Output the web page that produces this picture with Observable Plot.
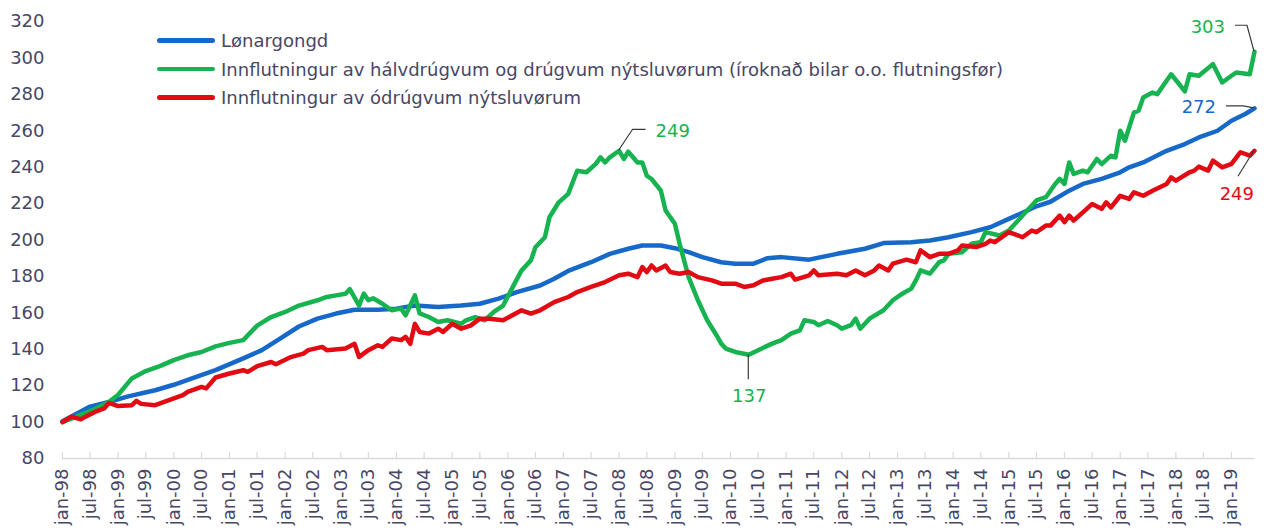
<!DOCTYPE html>
<html>
<head>
<meta charset="utf-8">
<script src="https://cdn.jsdelivr.net/npm/d3@7"></script>
<script src="https://cdn.jsdelivr.net/npm/@observablehq/plot@0.6"></script>
<style>
  body { margin: 0; background: #fff; font-family: "DejaVu Sans", Verdana, sans-serif; }
  #wrap { position: relative; width: 1264px; height: 531px; }
  #legend { position: absolute; left: 157px; top: 26px; }
  .item { display: flex; align-items: center; height: 28.7px; font-size: 18px; color: #474766; white-space: nowrap; }
  .swatch { width: 58px; height: 4.5px; border-radius: 3px; margin-right: 6px; }
</style>
</head>
<body>
<div id="wrap"><div id="legend"></div></div>
<script>
// Months counted from Jan 1998 (0 = jan-98)
const seriesNames = [
  "Lønargongd",
  "Innflutningur av hálvdrúgvum og drúgvum nýtsluvørum (íroknað bilar o.o. flutningsfør)",
  "Innflutningur av ódrúgvum nýtsluvørum"
];
const seriesColors = ["#1668c9", "#17b350", "#e30b13"];

const wageMonths = [0,6,10,14,20,24,29,33,39,43,47,51,55,59,63,68,72,76,81,86,90,94,98,103,106,109,114,118,122,125,129,132,135,138,142,145,149,152,155,161,167,173,177,183,187,191,196,200,204,207,210,213,217,220,224,228,230,233,238,242,245,249,252,255,257];
const wageValues = [100.5,108.5,111,114,117.5,120.5,125,128.5,135,139.5,146,152.5,156.8,159.6,161.7,161.7,162.3,164,163.2,164,165,167.8,171.4,175,178.7,183,187.8,192.4,195.2,197,197,195.5,193.3,190.6,187.8,187,187,190,190.6,189.2,192.4,195.2,198.3,198.8,199.7,201.5,204.3,207,211.6,215,218.5,221,227.1,230.8,233.6,237.2,239.9,242.6,249,252.7,256.3,260,265.5,269.2,272.3];

const durableMonths = [0,3,6,10,12,15,18,21,24,27,30,33,36,39,42,45,48,51,55,57,59,61,62,64,65,66,67,69,71,73,74,76,77,79,81,83,86,87,89,91,93,95,97,99,101,102,104,105,107,109,111,113,115,116,117,118,120,121,122,124,125,126,127,129,130,132,133,135,137,139,141,142,143,145,148,150,153,155,157,159,160,162,163,165,167,168,170,171,172,174,177,179,181,183,184,185,187,189,190,191,194,196,198,199,202,204,207,210,212,214,215,216,217,218,220,221,223,224,226,227,228,229,231,232,233,235,236,239,241,242,243,245,248,250,252,253,256,257];
const durableValues = [100,103,106,111,115,124,128,130.7,134,136.7,138.5,141.6,143.5,145,153,157.7,160.5,164,166.9,168.7,169.6,170.5,173,164,170.6,166.9,168,165,161.4,162.3,158.6,169.6,159.7,157.7,155,155.9,154,155.9,157.7,155.9,160.5,164,174,183.3,188.8,196,201.5,212.5,220.7,225.3,238,237.2,241.8,245.4,242.6,245.4,249,244.5,248.5,242.6,242.6,235.3,233.5,227.1,216.2,208.9,197.9,179.6,166.9,155.9,147.7,143.1,140.4,138.5,137,139.5,143.1,145,148.6,150.4,155.9,155,153.2,155.5,153.2,151.3,153.2,156.8,151.3,156.8,161.4,166.9,170.5,173.3,177.8,183.3,181.5,187.8,188.8,192.4,193.3,197.9,198.8,204.3,202.5,205.2,213.4,221.7,223.5,230.8,233.6,230.8,242.6,236.3,238.1,237.2,244.5,241.7,246.3,245.4,260,254.5,270,271,278.3,281,280.1,291,284.7,281.6,291,290.2,296.6,286.5,290.2,292,291,303.4];

const nondurableMonths = [0,2,4,5,7,9,10,12,15,16,17,20,23,26,27,30,31,33,36,39,40,42,45,46,49,52,53,56,57,61,63,64,66,68,69,71,73,74,75,76,77,79,81,82,84,86,88,90,92,95,99,101,103,106,109,111,114,117,120,122,124,125,126,127,128,130,131,133,135,137,140,142,145,147,149,151,153,155,157,158,161,162,163,167,169,171,173,175,176,178,179,182,184,185,187,189,191,193,194,197,199,200,201,204,206,207,209,210,212,213,215,216,217,218,220,222,224,225,226,228,230,231,233,235,238,239,240,243,244,245,247,248,250,252,254,256,257];
const nondurableValues = [100,103,101.5,103,105.6,107.5,110.5,108.8,109.3,111.7,110,109.3,112,114.8,116.6,119.3,118.5,124.5,126.7,128.5,127.6,130.7,133,131.8,135.5,137.6,139.5,141.3,139.5,140.4,143,135.8,139.5,142.2,141.3,145.9,145,146.8,143,154,149.5,148.6,151.3,149.5,154,151.3,153,156.8,156.8,155.9,161.4,159.6,161.4,165.9,168.7,171.4,174.2,176.9,180.6,181.5,179.6,185.1,182.4,186,183.3,186,182.4,181.5,182.4,179.6,177.8,176,176,174.2,175.1,177.8,178.7,179.6,181.5,178.2,180.6,183.3,180.6,181.5,180.6,183.3,180.6,183.3,186,183.3,187,189.2,187.8,194.3,190.6,192.4,192.4,194.3,197,196.1,197.9,199.7,198.8,204.3,202.5,201.5,205.2,204.3,207.9,207.9,213.4,209.8,213.4,210.7,215.2,219.8,217.1,220.7,217.9,224.3,222.6,226.2,224.3,227.1,230.8,234.4,232.6,237.2,238.1,240.3,238.1,243.6,239.9,241.8,248.2,246.3,249];

const yTicks = [80,100,120,140,160,180,200,220,240,260,280,300,320];
const xTickLabels = ["jan-98","jul-98","jan-99","jul-99","jan-00","jul-00","jan-01","jul-01","jan-02","jul-02","jan-03","jul-03","jan-04","jul-04","jan-05","jul-05","jan-06","jul-06","jan-07","jul-07","jan-08","jul-08","jan-09","jul-09","jan-10","jul-10","jan-11","jul-11","jan-12","jul-12","jan-13","jul-13","jan-14","jul-14","jan-15","jul-15","jan-16","jul-16","jan-17","jul-17","jan-18","jul-18","jan-19"];

const monthDate = m => new Date(Date.UTC(1998, m, 1));
const monthIdx = {jan: 0, jul: 6};
const labelDate = s => { const [mo, yy] = s.split("-"); const y = +yy >= 50 ? 1900 + +yy : 2000 + +yy; return new Date(Date.UTC(y, monthIdx[mo], 1)); };
const tickDates = xTickLabels.map(labelDate);
const labelByTime = new Map(tickDates.map((d, i) => [+d, xTickLabels[i]]));

const build = (months, values, k) => months.map((m, i) => ({date: monthDate(m), value: values[i], series: seriesNames[k]}));
const wage = build(wageMonths, wageValues, 0);
const durable = build(durableMonths, durableValues, 1);
const nondurable = build(nondurableMonths, nondurableValues, 2);

// annotated points
const peakPart = durable.filter(d => d.date < monthDate(140));
const peak = peakPart[d3.maxIndex(peakPart, d => d.value)];
const troughPart = durable.filter(d => d.date > monthDate(130) && d.date < monthDate(170));
const trough = troughPart[d3.minIndex(troughPart, d => d.value)];
const annots = [
  {p: peak, color: seriesColors[1], path: [[0,0],[14,-21],[27,-21]], tx: 37, ty: -20, anchor: "start"},
  {p: trough, color: seriesColors[1], path: [[0,0],[0,25]], tx: 1, ty: 41, anchor: "middle"},
  {p: durable[durable.length - 1], color: seriesColors[1], path: [[0,0],[-7,-26],[-19,-26]], tx: -29, ty: -25, anchor: "end"},
  {p: wage[wage.length - 1], color: seriesColors[0], path: [[0,0],[-11,-2],[-28,-2]], tx: -38, ty: -1, anchor: "end"},
  {p: nondurable[nondurable.length - 1], color: seriesColors[2], path: [[0,0],[-16,26]], tx: 0, ty: 43, anchor: "end"}
];

function annotationMark(index, scales) {
  const g = d3.create("svg:g");
  for (const a of annots) {
    const px = scales.x(a.p.date), py = scales.y(a.p.value);
    const pts = a.path.map(([dx, dy]) => [px + dx, py + dy]);
    g.append("path").attr("d", "M" + pts.map(p => p.join(",")).join("L"))
      .attr("fill", "none").attr("stroke", "#3a3a3a").attr("stroke-width", 1.2);
    g.append("text").attr("x", px + a.tx).attr("y", py + a.ty)
      .attr("text-anchor", a.anchor).attr("dominant-baseline", "central")
      .attr("fill", a.color).attr("font-size", 18).text(Math.round(a.p.value));
  }
  return g.node();
}

const W = 1264, H = 531, mt = 21, mb = 73;
const chart = Plot.plot({
  width: W, height: H,
  marginLeft: 62, marginRight: 10, marginTop: mt, marginBottom: mb,
  style: {fontFamily: "'DejaVu Sans', Verdana, sans-serif", fontSize: "18px", color: "#474766", background: "white"},
  x: {type: "utc", domain: [monthDate(0), monthDate(257)], ticks: tickDates, tickFormat: d => labelByTime.get(+d), tickRotate: -90, tickSize: 0, tickPadding: 10, label: null},
  y: {domain: [80, 320], ticks: yTicks, tickSize: 0, tickPadding: 18, label: null},
  marks: [
    Plot.ruleY([80], {stroke: "#d9d9d9", strokeWidth: 1.5}),
    Plot.ruleX(tickDates, {x: d => d, stroke: "#d9d9d9", strokeWidth: 1.2, insetTop: H - mt - mb - 6}),
    Plot.line(wage, {x: "date", y: "value", stroke: seriesColors[0], strokeWidth: 4.5, strokeLinejoin: "round", strokeLinecap: "round"}),
    Plot.line(durable, {x: "date", y: "value", stroke: seriesColors[1], strokeWidth: 4.5, strokeLinejoin: "round", strokeLinecap: "round"}),
    Plot.line(nondurable, {x: "date", y: "value", stroke: seriesColors[2], strokeWidth: 4.5, strokeLinejoin: "round", strokeLinecap: "round"}),
    annotationMark
  ]
});
document.getElementById("wrap").prepend(chart);

const legend = d3.select("#legend");
seriesNames.forEach((name, i) => {
  const item = legend.append("div").attr("class", "item");
  item.append("div").attr("class", "swatch").style("background", seriesColors[i]);
  item.append("span").text(name);
});
</script>
</body>
</html>
